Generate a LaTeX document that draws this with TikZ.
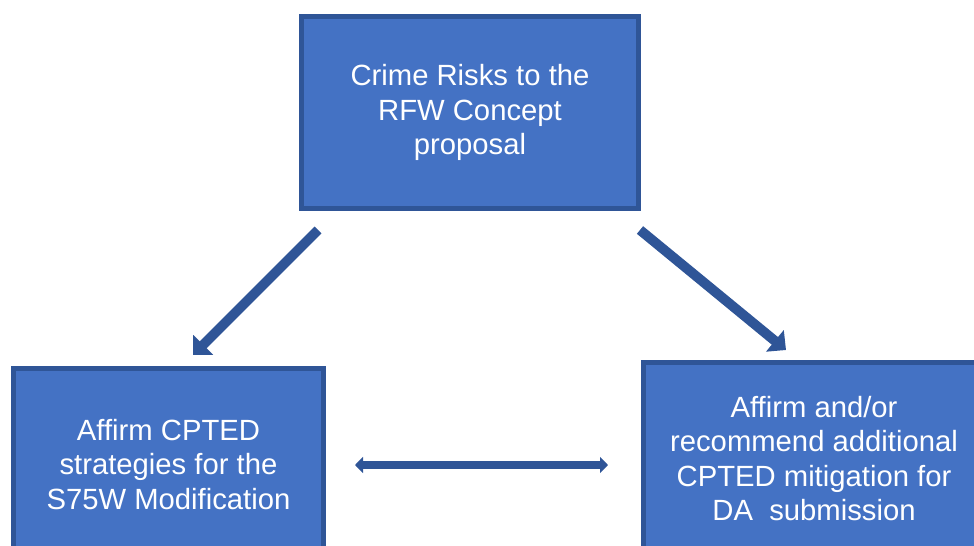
\documentclass[tikz,border=0pt]{standalone}
\usepackage{fontspec}
\setmainfont{Liberation Sans}
\usetikzlibrary{arrows.meta}
\definecolor{boxfill}{HTML}{4472C4}
\definecolor{boxline}{HTML}{2F5597}

\begin{document}
\begin{tikzpicture}[x=0.025cm, y=-0.025cm,
    box/.style = {draw=boxline, fill=boxfill, line width=3.5pt, text=white, align=center, inner sep=0pt, minimum height=4.8cm, font=\fontsize{20.8}{24.5}\selectfont},
    link/.style = {draw=boxline, line width=7pt, -{Triangle[length=0.36cm, width=0.68cm]}},
    both/.style = {draw=boxline, line width=5.5pt, {Triangle[length=0.2cm, width=0.4cm]}-{Triangle[length=0.2cm, width=0.4cm]}}]
    \useasboundingbox (0,0) rectangle (974,546);
    \clip (0,0) rectangle (974,546);

    % Nodes
    \node[box, minimum width=8.43cm] (risk) at (470, 112.5) {Crime Risks to the\\RFW Concept\\proposal};
    \node[box, minimum width=7.75cm] (s75w) at (168.5, 464.5) {Affirm CPTED\\strategies for the\\S75W Modification};
    \node[box, minimum width=8.52cm] (da) at (814, 458.5) {Affirm and/or\\recommend additional\\CPTED mitigation for\\DA\ \ submission};

    % Edges
    \coordinate (l1) at (318, 230);
    \coordinate (l2) at (193, 355);
    \coordinate (r1) at (640, 230);
    \coordinate (r2) at (786, 350);
    \coordinate (m1) at (355, 465);
    \coordinate (m2) at (608, 465);
    \draw[link] (l1) -- (l2);
    \draw[link] (r1) -- (r2);
    \draw[both] (m1) -- (m2);

\end{tikzpicture}
\end{document}
